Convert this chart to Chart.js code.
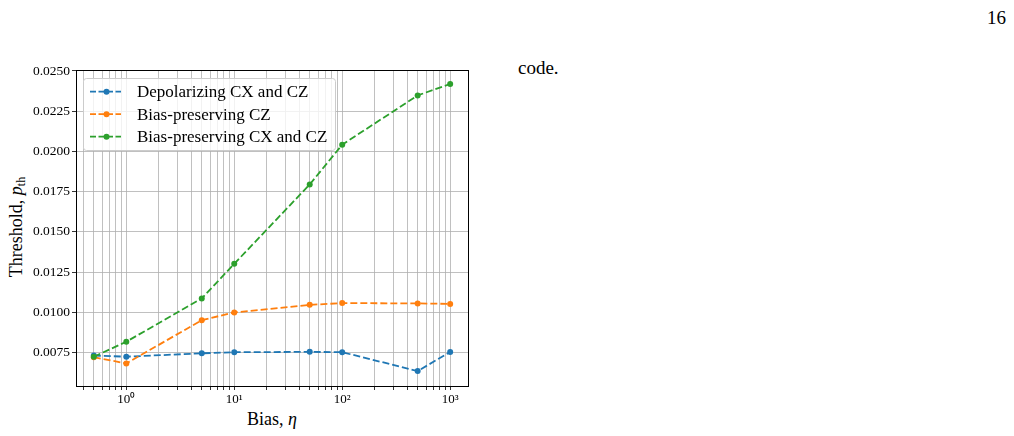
<!DOCTYPE html>
<html>
<head>
<meta charset="utf-8">
<script src="https://cdn.jsdelivr.net/npm/chart.js@4"></script>
<style>
  body { margin: 0; background: #fff; width: 1014px; height: 436px; overflow: hidden; position: relative; font-family: "Liberation Serif", serif; }
  #grafico { position: absolute; left: 0; top: 0; }
  .texto { position: absolute; color: #000; white-space: nowrap; line-height: 1; }
  #tituloY { left: 16px; top: 227px; font-size: 18px; transform: translate(-50%, -50%) rotate(-90deg); }
  #tituloX { left: 272px; top: 419px; font-size: 18px; transform: translate(-50%, -50%); }
  sub { font-size: 12px; vertical-align: -3px; line-height: 0; }
</style>
</head>
<body>
<div class="texto" style="left:987px; top:8px; font-size:19px;">16</div>
<div class="texto" style="left:518px; top:58px; font-size:19px;">code.</div>
<div class="texto" id="tituloY">Threshold, <i>p</i><sub>th</sub></div>
<div class="texto" id="tituloX">Bias, <i>η</i></div>
<canvas id="grafico" width="1014" height="436"></canvas>
<script>
// valores
const bias = [0.5, 1, 5, 10, 50, 100, 500, 1000];
const depolarizante = [0.00732, 0.00725, 0.00746, 0.00753, 0.00755, 0.00753, 0.00636, 0.00754];
const preservaCZ = [0.00722, 0.00683, 0.00952, 0.01000, 0.01047, 0.01058, 0.01056, 0.01053];
const preservaCXCZ = [0.00725, 0.00818, 0.01087, 0.01302, 0.01795, 0.02042, 0.02348, 0.02419];

const nomes = ['Depolarizing CX and CZ', 'Bias-preserving CZ', 'Bias-preserving CX and CZ'];
const cores = ['#1f77b4', '#ff7f0e', '#2ca02c'];

const ticksY = [0.0075, 0.0100, 0.0125, 0.0150, 0.0175, 0.0200, 0.0225, 0.0250];
const ticksXMaiores = [1, 10, 100, 1000];
const rotulosX = ['10⁰', '10¹', '10²', '10³'];

// marcas menores do eixo log (2..9 de cada década)
const ticksX = [];
for (let d = -1; d <= 3; d++) {
    for (let m = 1; m <= 9; m++) {
        const v = m * Math.pow(10, d);
        if (v >= 0.342 && v <= 1463) ticksX.push(Number(v.toPrecision(3)));
    }
}

function montarSerie(i, valores, ordem) {
    return {
        label: nomes[i],
        data: bias.map((x, k) => ({ x: x, y: valores[k] })),
        borderColor: cores[i],
        backgroundColor: cores[i],
        pointBackgroundColor: cores[i],
        pointBorderWidth: 0,
        pointRadius: 3,
        borderWidth: 1.8,
        borderDash: [7, 3],
        tension: 0,
        order: ordem
    };
}

// moldura + legenda como no matplotlib
const pluginMoldura = {
    id: 'moldura',
    afterDraw(chart) {
        const ctx = chart.ctx;
        const a = chart.chartArea;
        ctx.save();
        ctx.strokeStyle = '#000';
        ctx.lineWidth = 1;
        ctx.strokeRect(Math.round(a.left) + 0.5, Math.round(a.top) + 0.5, Math.round(a.right - a.left), Math.round(a.bottom - a.top));

        // caixa da legenda
        const lx = 83.5, ly = 78.5, lw = 252, lh = 72, r = 3;
        ctx.beginPath();
        ctx.moveTo(lx + r, ly);
        ctx.arcTo(lx + lw, ly, lx + lw, ly + lh, r);
        ctx.arcTo(lx + lw, ly + lh, lx, ly + lh, r);
        ctx.arcTo(lx, ly + lh, lx, ly, r);
        ctx.arcTo(lx, ly, lx + lw, ly, r);
        ctx.closePath();
        ctx.fillStyle = 'rgba(255,255,255,0.8)';
        ctx.fill();
        ctx.strokeStyle = '#cccccc';
        ctx.stroke();

        ctx.font = '17px "Liberation Serif"';
        ctx.textBaseline = 'middle';
        chart.data.datasets.forEach((ds, i) => {
            const y = 91.7 + i * 22.5;
            ctx.strokeStyle = ds.borderColor;
            ctx.lineWidth = ds.borderWidth;
            ctx.setLineDash([6, 2.5]);
            ctx.beginPath();
            ctx.moveTo(90, y);
            ctx.lineTo(121, y);
            ctx.stroke();
            ctx.setLineDash([]);
            ctx.fillStyle = ds.borderColor;
            ctx.beginPath();
            ctx.arc(106.5, y, 3, 0, Math.PI * 2);
            ctx.fill();
            ctx.fillStyle = '#000';
            ctx.fillText(ds.label, 137, y + 1);
        });
        ctx.restore();
    }
};

new Chart(document.getElementById('grafico'), {
    type: 'line',
    data: {
        datasets: [
            montarSerie(0, depolarizante, 3),
            montarSerie(1, preservaCZ, 2),
            montarSerie(2, preservaCXCZ, 1)
        ]
    },
    options: {
        responsive: false,
        animation: false,
        layout: { padding: { left: 0, top: 70, right: 546, bottom: 0 } },
        plugins: { legend: { display: false }, tooltip: { enabled: false } },
        scales: {
            x: {
                type: 'logarithmic',
                bounds: 'data',
                min: 0.342,
                max: 1463,
                afterBuildTicks: (s) => { s.ticks = ticksX.map(v => ({ value: v })); },
                afterFit: (s) => { s.height = 50; },
                border: { color: '#000', width: 1 },
                grid: { color: '#b0b0b0', lineWidth: 0.8, tickColor: '#000', tickLength: 4 },
                ticks: {
                    autoSkip: false,
                    maxRotation: 0,
                    padding: 2,
                    color: '#000',
                    font: { family: '"Liberation Serif"', size: 13 },
                    callback: (v) => {
                        const i = ticksXMaiores.indexOf(v);
                        return i >= 0 ? rotulosX[i] : '';
                    }
                }
            },
            y: {
                type: 'linear',
                bounds: 'data',
                min: 0.00543,
                max: 0.02506,
                afterBuildTicks: (s) => { s.ticks = ticksY.map(v => ({ value: v })); },
                afterFit: (s) => { s.width = 76; },
                border: { color: '#000', width: 1 },
                grid: { color: '#b0b0b0', lineWidth: 0.8, tickColor: '#000', tickLength: 4 },
                ticks: {
                    padding: 2,
                    color: '#000',
                    font: { family: '"Liberation Serif"', size: 13.5 },
                    callback: (v) => v.toFixed(4)
                }
            }
        }
    },
    plugins: [pluginMoldura]
});
</script>
</body>
</html>
